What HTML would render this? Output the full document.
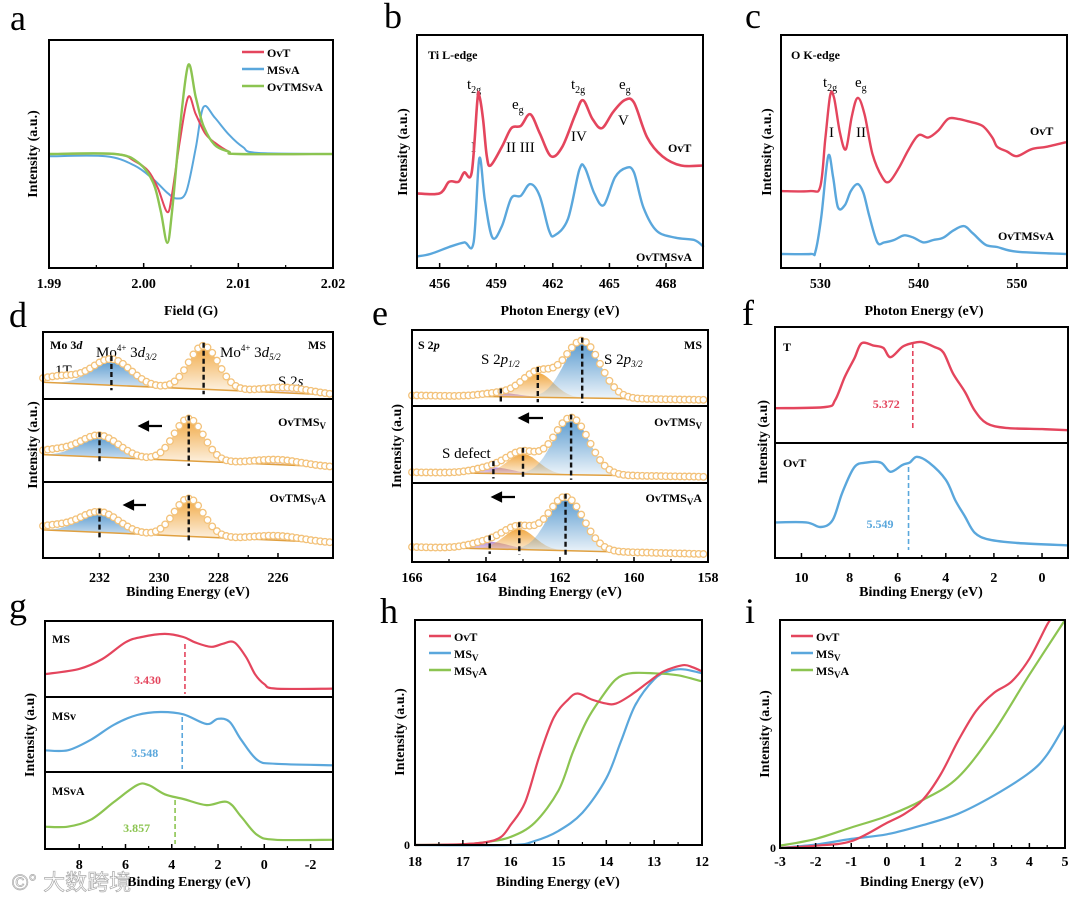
<!DOCTYPE html>
<html><head><meta charset="utf-8"><style>
body{margin:0;background:#fff}
svg{display:block;font-family:"Liberation Serif","Noto Serif CJK SC",serif}
.fr{fill:none;stroke:#000;stroke-width:2}
.tl{font-size:14px;font-weight:bold;text-anchor:middle}
.at{font-size:14px;font-weight:bold;text-anchor:middle}
.pl{font-size:36px}
.lb{font-size:12px;font-weight:bold}
.an{font-size:15px}
</style></head><body>
<svg id="chart" width="1080" height="897" viewBox="0 0 1080 897" xmlns="http://www.w3.org/2000/svg">
<rect width="1080" height="897" fill="#fff"/>
<g>
<text class="pl" x="10" y="30">a</text>
<text class="pl" x="384" y="28">b</text>
<text class="pl" x="745" y="28">c</text>
<text class="pl" x="9" y="327">d</text>
<text class="pl" x="372" y="325">e</text>
<text class="pl" x="742" y="325">f</text>
<text class="pl" x="9" y="618">g</text>
<text class="pl" x="380" y="623">h</text>
<text class="pl" x="745" y="623">i</text>
</g>
<g>
<text class="at" x="191" y="315">Field (G)</text>
<text class="at" x="560" y="315">Photon Energy (eV)</text>
<text class="at" x="924" y="315">Photon Energy (eV)</text>
<text class="at" x="188" y="596">Binding Energy (eV)</text>
<text class="at" x="560" y="596">Binding Energy (eV)</text>
<text class="at" x="921" y="596">Binding Energy (eV)</text>
<text class="at" x="189" y="886">Binding Energy (eV)</text>
<text class="at" x="558" y="886">Binding Energy (eV)</text>
<text class="at" x="922" y="886">Binding Energy (eV)</text>
<text class="at" transform="translate(37,154) rotate(-90)">Intensity (a.u.)</text>
<text class="at" transform="translate(407,152) rotate(-90)">Intensity (a.u.)</text>
<text class="at" transform="translate(771,152) rotate(-90)">Intensity (a.u.)</text>
<text class="at" transform="translate(37,445) rotate(-90)">Intensity (a.u.)</text>
<text class="at" transform="translate(401,446) rotate(-90)">Intensity (a.u)</text>
<text class="at" transform="translate(767,442) rotate(-90)">Intensity (a.u)</text>
<text class="at" transform="translate(34,735) rotate(-90)">Intensity (a.u)</text>
<text class="at" transform="translate(404,732) rotate(-90)">Intensity (a.u.)</text>
<text class="at" transform="translate(769,734) rotate(-90)">Intensity (a.u.)</text>
</g>
<g>
<text class="lb" x="428" y="59">Ti L-edge</text>
<text class="an" x="467" y="89">t<tspan font-size="10" dy="4">2g</tspan></text>
<text class="an" x="512" y="109">e<tspan font-size="10" dy="4">g</tspan></text>
<text class="an" x="571" y="89">t<tspan font-size="10" dy="4">2g</tspan></text>
<text class="an" x="619" y="89">e<tspan font-size="10" dy="4">g</tspan></text>
<text class="an" x="471" y="152">I</text>
<text class="an" x="506" y="152">II III</text>
<text class="an" x="571" y="141">IV</text>
<text class="an" x="618" y="125">V</text>
<text class="lb" x="668" y="152">OvT</text>
<text class="lb" x="636" y="261">OvTMSvA</text>
<text class="lb" x="791" y="59">O K-edge</text>
<text class="an" x="823" y="87">t<tspan font-size="10" dy="4">2g</tspan></text>
<text class="an" x="855" y="87">e<tspan font-size="10" dy="4">g</tspan></text>
<text class="an" x="829" y="137">I</text>
<text class="an" x="856" y="137">II</text>
<text class="lb" x="1030" y="135">OvT</text>
<text class="lb" x="998" y="240">OvTMSvA</text>
<text class="lb" x="50" y="349">Mo 3<tspan font-style="italic">d</tspan></text>
<text class="an" x="96" y="357">Mo<tspan font-size="9" dy="-6">4+</tspan><tspan dy="6"> 3</tspan><tspan font-style="italic">d</tspan><tspan font-size="9" font-style="italic" dy="3">3/2</tspan></text>
<text class="an" x="220" y="357">Mo<tspan font-size="9" dy="-6">4+</tspan><tspan dy="6"> 3</tspan><tspan font-style="italic">d</tspan><tspan font-size="9" font-style="italic" dy="3">5/2</tspan></text>
<text class="an" x="55" y="375">1T</text>
<text class="an" x="278" y="386">S 2<tspan font-style="italic">s</tspan></text>
<text class="lb" x="326" y="349" text-anchor="end">MS</text>
<text class="lb" x="326" y="426" text-anchor="end">OvTMS<tspan font-size="9" dy="3">V</tspan></text>
<text class="lb" x="326" y="502" text-anchor="end">OvTMS<tspan font-size="9" dy="3">V</tspan><tspan dy="-3">A</tspan></text>
<text class="lb" x="418" y="349">S 2<tspan font-style="italic">p</tspan></text>
<text class="an" x="481" y="364">S 2<tspan font-style="italic">p</tspan><tspan font-size="9" font-style="italic" dy="3">1/2</tspan></text>
<text class="an" x="604" y="364">S 2<tspan font-style="italic">p</tspan><tspan font-size="9" font-style="italic" dy="3">3/2</tspan></text>
<text class="lb" x="702" y="349" text-anchor="end">MS</text>
<text class="lb" x="702" y="426" text-anchor="end">OvTMS<tspan font-size="9" dy="3">V</tspan></text>
<text class="lb" x="702" y="502" text-anchor="end">OvTMS<tspan font-size="9" dy="3">V</tspan><tspan dy="-3">A</tspan></text>
<text class="an" x="442" y="458">S defect</text>
<text class="lb" x="783" y="351">T</text>
<text class="lb" x="783" y="467">OvT</text>
<text class="lb" x="52" y="643">MS</text>
<text class="lb" x="52" y="720">MSv</text>
<text class="lb" x="52" y="795">MSvA</text>
<text x="12" y="890" font-size="22" fill="#fff" stroke="#aaa" stroke-width="0.7" font-family="Liberation Sans, Noto Sans CJK SC, sans-serif">©° 大数跨境</text>
</g>
<g id="marks"></g>
<g id="frames"></g>
</svg>
<script>
// ---------- data ----------
const aX_ovt=[1.99,1.997,1.999,2.0005,2.0015,2.0025,2.003,2.0038,2.0047,2.0055,2.0065,2.0075,2.009,2.01,2.02];
const aY_ovt=[0,0,-0.06,-0.15,-0.3,-0.51,-0.35,0.1,0.5,0.35,0.18,0.1,0.02,0,0];
const aX_msva=[1.99,1.996,1.999,2.001,2.0025,2.0035,2.0045,2.0055,2.0063,2.0075,2.009,2.0105,2.012,2.02];
const aY_msva=[-0.02,-0.02,-0.1,-0.22,-0.34,-0.39,-0.33,0.05,0.41,0.32,0.17,0.06,0.01,0];
const aX_ovtmsva=[1.99,1.997,1.9995,2.001,2.0018,2.0025,2.003,2.0038,2.0047,2.0055,2.0063,2.0075,2.009,2.01,2.02];
const aY_ovtmsva=[0,0,-0.08,-0.25,-0.5,-0.78,-0.5,0.2,0.78,0.5,0.25,0.08,0.02,0,0];
const aTicks=[1.99,2.00,2.01,2.02];

const bX_ovt=[454.8,456,456.5,457,457.3,457.7,458,458.1,458.3,458.5,458.7,459.3,459.8,460.3,460.8,461.3,461.9,462.5,463.2,463.6,464.1,464.6,465.2,465.8,466.3,467,467.8,468.8,470];
const bY_ovt=[32,32,37,37,41,41,72,74,64,48,44,52,60,61,66,58,48,52,66,72,64,60,67,72,71,56,48,44,44];
const bX_ovtmsva=[454.8,455.5,456.5,457.3,457.8,458.1,458.4,458.8,459.3,459.8,460.3,460.8,461.3,461.8,462.1,462.8,463.4,463.7,464.2,464.7,465.3,465.9,466.3,466.8,467.5,468.5,469.5,470];
const bY_ovtmsva=[5,6,9,11,11,47,29,13,18,30,31,36,31,16,14,21,42,43,32,27,39,43,41,26,16,13,12,9];
const bTicks=[456,459,462,465,468];

const cX_ovt=[526,529,530,530.5,531,531.4,532,532.6,533.2,533.8,534.5,535.3,536.3,537,538,539,540,541,542,543,544,545,546.5,547.5,548,549,550,551.5,553,555];
const cY_ovt=[33,33,35,55,74,73,58,51,65,73,66,49,39,37,43,51,57,56,59,64,64,63,61,56,52,50,48,51,52,54];
const cX_ovtmsva=[526,529,529.5,530.1,530.8,531.3,531.8,532.5,533.1,533.8,534.4,535,535.8,536.5,537.5,538.5,539.5,540.5,541.5,542.5,543.5,544.6,545.5,546.8,548,550,555];
const cY_ovtmsva=[6,6,7,22,48,39,26,27,33,36,32,22,11,11,12,14,13,11,12,13,16,18,15,10,9,7,6];
const cTicks=[530,540,550];

const dCenters_MS=[233.3,231.6,228.5,225.7];
const dAmps_MS=[10,39,65,8];
const dBase_MS=[25,6];
const dCenters_V=[233.5,232.0,229.0,226.0];
const dAmps_V=[6,26,51,6];
const dBase_V=[33,18];
const dCenters_VA=[233.5,232.0,229.0,226.0];
const dAmps_VA=[6,27,50,6];
const dBase_VA=[37,20];
const dSigmas=[0.6,0.65,0.5,0.8];
const dTicks=[232,230,228,226];

const eCenters_MS=[163.6,162.6,161.4];
const eAmps_MS=[5,32,75];
const eBase_MS=[14,8];
const eCenters_V=[163.8,163.0,161.7];
const eAmps_V=[8,26,74];
const eBase_V=[14,8];
const eCenters_VA=[163.9,163.1,161.85];
const eAmps_VA=[9,26,68];
const eBase_VA=[19,10];
const eSigmas=[0.5,0.42,0.48];
const eTicks=[166,164,162,160,158];

const fX_t=[11.1,9,8.6,8.2,7.8,7.5,7,6.6,6.3,5.8,5.4,5,4.5,4.1,3.7,3.2,2.8,2.3,1.5,0,-1.08];
const fY_t=[30,31,37,57,73,86,84,82,74,83,86,87,83,78,60,44,28,17,13,12,11];
const fX_ovt=[11.1,9.8,9.2,8.7,8.3,7.8,7.3,6.7,6.3,5.8,5.5,5.2,4.7,4,3.6,3.2,2.8,2.2,1,-1.08];
const fY_ovt=[31,31,27,33,57,79,83,83,75,81,83,88,83,68,50,36,22,16,13,11];
const fMarks=[5.372,5.549];
const fTicks=[10,8,6,4,2,0];

const gX_ms=[9.5,8,7,6,5.3,4.3,3.5,3,2.3,1.8,1.3,0.8,0.4,0,-0.5,-3];
const gY_ms=[30,37,50,72,79,83,79,72,66,70,72,53,30,17,11,11];
const gX_msv=[9.5,8.5,7.5,6.5,5.5,4.5,3.5,2.5,2,1.5,1,0.3,-0.5,-3];
const gY_msv=[29,29,43,63,76,80,77,64,71,67,43,16,11,9];
const gX_msva=[9.5,8.5,7.5,6.5,5.5,5,4.3,3.5,2.5,1.6,1,0.3,-0.5,-3];
const gY_msva=[29,29,38,61,83,83,71,65,57,61,42,18,12,12];
const gMarks=[3.430,3.548,3.857];
const gTicks=[8,6,4,2,0,-2];

const hX_ovt=[18,17,16.5,16.2,16,15.7,15.4,15.1,14.8,14.6,14.3,14,13.8,13.5,13.1,12.8,12.4,12.2,12];
const hY_ovt=[0,0.4,1.5,4,10,21,44,63,72,75,72,70,70,74,81,86,89,88,86];
const hX_msv=[18,16,15.5,15,14.5,14,13.7,13.4,13,12.7,12.4,12];
const hY_msv=[0,0,2,7,16,33,51,69,82,86,87,85];
const hX_msva=[18,17,16.5,16,15.5,15,14.7,14.4,14.1,13.8,13.5,13,12.5,12];
const hY_msva=[0,0.3,1.5,4,11,27,46,62,73,82,85,85,84,81];
const hTicks=[18,17,16,15,14,13,12];

const iX_ovt=[-3,-2,-1,0,0.5,1,1.5,2,2.5,3,3.5,4,4.5,4.6];
const iY_ovt=[0,1,3,11,15,21,32,47,60,68,73,83,98,100];
const iX_msva=[-3,-2,-1,0,1,2,3,4,5];
const iY_msva=[1,4,9,14,21,31,51,76,100];
const iX_msv=[-3,-2,-1,0,1,2,3,4,4.5,5];
const iY_msv=[0,1.5,4,6,10,15,23,33,41,54];
const iTicks=[-3,-2,-1,0,1,2,3,4,5];

// ---------- drawing ----------
const NS='http://www.w3.org/2000/svg';
const marks=document.getElementById('marks');
const frames=document.getElementById('frames');
const RED='#e4455d',BLUE='#5aa7dc',GREEN='#8cc451';
function mk(tag,parent){const e=document.createElementNS(NS,tag);(parent||marks).appendChild(e);return e;}
function scale(d0,d1,r0,r1){return v=>r0+(v-d0)/(d1-d0)*(r1-r0);}
function axes(x0,y0,w,h){return {x0,y0,w,h};}
function frame(b,name){
  const r=mk('rect',frames);
  r.setAttribute('x',b.x0);r.setAttribute('y',b.y0);r.setAttribute('width',b.w);r.setAttribute('height',b.h);
  r.setAttribute('class','fr');
  
  
}
function divider(b,y,name){
  const l=mk('line',frames);
  l.setAttribute('x1',b.x0);l.setAttribute('x2',b.x0+b.w);l.setAttribute('y1',y);l.setAttribute('y2',y);
  l.setAttribute('stroke','#000');l.setAttribute('stroke-width','2');
  
  
}
function ticks(b,xs,ticksArr,labelY,name,fmt,minor){
  const g=mk('g');
  
  
  ticksArr.forEach(t=>{
    const x=xs(t);
    const l=mk('line',g);
    l.setAttribute('x1',x);l.setAttribute('x2',x);l.setAttribute('y1',b.y0+b.h);l.setAttribute('y2',b.y0+b.h-5);
    l.setAttribute('stroke','#000');l.setAttribute('stroke-width','1.5');
    const tx=mk('text',g);
    tx.setAttribute('x',x);tx.setAttribute('y',labelY);tx.setAttribute('class','tl');
    tx.textContent=fmt?fmt(t):t;
    
    
  });
  if(minor){
    for(let i=0;i<ticksArr.length-1;i++){
      const x=xs((ticksArr[i]+ticksArr[i+1])/2);
      const l=mk('line',g);
      l.setAttribute('x1',x);l.setAttribute('x2',x);l.setAttribute('y1',b.y0+b.h);l.setAttribute('y2',b.y0+b.h-3);
      l.setAttribute('stroke','#000');l.setAttribute('stroke-width','1.2');
    }
  }
}
function smoothPath(P){
  let d='M'+P[0][0].toFixed(1)+','+P[0][1].toFixed(1);
  for(let i=0;i<P.length-1;i++){
    const p0=P[Math.max(0,i-1)],p1=P[i],p2=P[i+1],p3=P[Math.min(P.length-1,i+2)];
    const c1x=p1[0]+(p2[0]-p0[0])/6,c1y=p1[1]+(p2[1]-p0[1])/6;
    const c2x=p2[0]-(p3[0]-p1[0])/6,c2y=p2[1]-(p3[1]-p1[1])/6;
    d+='C'+c1x.toFixed(1)+','+c1y.toFixed(1)+' '+c2x.toFixed(1)+','+c2y.toFixed(1)+' '+p2[0].toFixed(1)+','+p2[1].toFixed(1);
  }
  return d;
}
function series(xs,ys,X,Y,color,w,name,parent){
  const p=mk('path',parent);
  p.setAttribute('d',smoothPath(X.map((v,i)=>[xs(v),ys(Y[i])])));
  p.setAttribute('fill','none');p.setAttribute('stroke',color);p.setAttribute('stroke-width',w||2.2);
  p.setAttribute('stroke-linejoin','round');
  
  
  return p;
}
function dashed(x,y1,y2,color,name,w){
  const l=mk('line');
  l.setAttribute('x1',x);l.setAttribute('x2',x);l.setAttribute('y1',y1);l.setAttribute('y2',y2);
  l.setAttribute('stroke',color);l.setAttribute('stroke-width',w||1.6);l.setAttribute('stroke-dasharray','5,3');
  
  
}
function label(x,y,txt,color,name){
  const t=mk('text');
  t.setAttribute('x',x);t.setAttribute('y',y);t.setAttribute('fill',color);t.setAttribute('class','lb');
  t.setAttribute('font-size','14');
  t.textContent=txt;
  
  
}
function legend(x,y,items,name){
  const g=mk('g');
  
  
  items.forEach((it,i)=>{
    const l=mk('line',g);
    l.setAttribute('x1',x);l.setAttribute('x2',x+22);l.setAttribute('y1',y+i*17);l.setAttribute('y2',y+i*17);
    l.setAttribute('stroke',it[1]);l.setAttribute('stroke-width','2.5');
    
    
    const t=mk('text',g);
    t.setAttribute('x',x+25);t.setAttribute('y',y+i*17+5);t.setAttribute('class','lb');t.setAttribute('font-size','13');
    t.innerHTML=it[0];
    
    
  });
}
function arrow(x1,x2,y,name){
  const p=mk('path');
  p.setAttribute('d',`M${x2},${y}L${x1+7},${y}M${x1},${y}l8,-4v8z`);
  p.setAttribute('stroke','#000');p.setAttribute('stroke-width','2.2');p.setAttribute('fill','#000');
  
  
}
const defs=mk('defs');
[['gBlue','#4f94cc'],['gOrange','#f0a43a'],['gPurple','#b58ad0']].forEach(([id,c])=>{
  const lg=mk('linearGradient',defs);lg.setAttribute('id',id);lg.setAttribute('x1',0);lg.setAttribute('x2',0);lg.setAttribute('y1',0);lg.setAttribute('y2',1);
  const s1=mk('stop',lg);s1.setAttribute('offset','0');s1.setAttribute('stop-color',c);s1.setAttribute('stop-opacity','0.95');
  const s2=mk('stop',lg);s2.setAttribute('offset','1');s2.setAttribute('stop-color',c);s2.setAttribute('stop-opacity','0.08');
});
function fitPanel(xs,x0d,x1d,top,bot,centers,amps,sigmas,base,fills,name,dashTo){
  const ys=scale(0,100,bot,top);
  const g=mk('g');
  
  
  const bl=v=>base[0]+(v-x0d)/(x1d-x0d)*(base[1]-base[0]);
  const comp=(k,v)=>amps[k]*Math.exp(-0.5*Math.pow((v-centers[k])/sigmas[k],2));
  const N=160,pts=[];for(let i=0;i<=N;i++)pts.push(x0d+(x1d-x0d)*i/N);
  centers.forEach((c,k)=>{
    if(!fills[k])return;
    const p=mk('path',g);
    let d='';pts.forEach((v,i)=>{d+=(i?'L':'M')+xs(v).toFixed(1)+','+ys(bl(v)+comp(k,v)).toFixed(1);});
    for(let i=N;i>=0;i--)d+='L'+xs(pts[i]).toFixed(1)+','+ys(bl(pts[i])).toFixed(1);
    p.setAttribute('d',d+'Z');p.setAttribute('fill',fills[k]);p.setAttribute('stroke','none');
    
    
  });
  const b=mk('path',g);
  b.setAttribute('d','M'+xs(x0d)+','+ys(base[0])+'L'+xs(x1d)+','+ys(base[1]));
  b.setAttribute('stroke','#e0a040');b.setAttribute('stroke-width','1.5');
  
  
  const env=v=>bl(v)+centers.reduce((s,c,k)=>s+comp(k,v),0);
  let px=xs(x0d);const pend=xs(x1d);
  const inv=scale(xs(x0d),xs(x1d),x0d,x1d);
  while(px<=pend+0.1){
    const v=inv(px);
    const c=mk('circle',g);
    c.setAttribute('cx',px.toFixed(1));c.setAttribute('cy',ys(env(v)).toFixed(1));c.setAttribute('r','3.3');
    c.setAttribute('fill','#fff');c.setAttribute('stroke','#f3c27a');c.setAttribute('stroke-width','1.3');
    
    
    px+=4.7;
  }
  dashTo.forEach(k=>{
    const c=centers[k];
    dashed(xs(c),ys(env(c))-3,ys(bl(c))+5,'#111','peak-position-line',2.4);
  });
}

{const b=axes(49,40,284,228);const xs=scale(1.99,2.02,49,333),ys=scale(-1,1,268,40);
 series(xs,ys,aX_msva,aY_msva,BLUE,2,'series-msva');
 series(xs,ys,aX_ovt,aY_ovt,RED,2,'series-ovt');
 series(xs,ys,aX_ovtmsva,aY_ovtmsva,GREEN,2.4,'series-ovtmsva');
 ticks(b,xs,aTicks,288,'x-ticks-a',t=>t.toFixed(2),true);
 legend(242,52,[['OvT',RED],['MSvA',BLUE],['OvTMSvA',GREEN]],'legend-a');
 frame(b,'plot-frame-a');}
{const b=axes(417,35,286,233);const xs=scale(454.8,469.96,417,703),ys=scale(0,100,268,35);
 series(xs,ys,bX_ovt,bY_ovt,RED,2.6,'series-ovt-b');
 series(xs,ys,bX_ovtmsva,bY_ovtmsva,BLUE,2.4,'series-ovtmsva-b');
 ticks(b,xs,bTicks,288,'x-ticks-b',null,true);
 frame(b,'plot-frame-b');}
{const b=axes(781,35,286,233);const xs=scale(526,555.1,781,1067),ys=scale(0,100,268,35);
 series(xs,ys,cX_ovt,cY_ovt,RED,2.4,'series-ovt-c');
 series(xs,ys,cX_ovtmsva,cY_ovtmsva,BLUE,2.4,'series-ovtmsva-c');
 ticks(b,xs,cTicks,288,'x-ticks-c',null,true);
 frame(b,'plot-frame-c');}
{const b=axes(43,332,290,226);const x0=233.9,x1=224.15;const xs=scale(x0,x1,43,333);
 const fills=[null,'url(#gBlue)','url(#gOrange)','url(#gPurple)'];
 fitPanel(xs,x0,x1,332,399,dCenters_MS,dAmps_MS,dSigmas,dBase_MS,fills,'fit-ms-d',[1,2]);
 fitPanel(xs,x0,x1,399,482,dCenters_V,dAmps_V,dSigmas,dBase_V,fills,'fit-ovtmsv-d',[1,2]);
 fitPanel(xs,x0,x1,482,558,dCenters_VA,dAmps_VA,dSigmas,dBase_VA,fills,'fit-ovtmsva-d',[1,2]);
 arrow(140,162,426,'shift-arrow-d1');arrow(125,146,505,'shift-arrow-d2');
 ticks(b,xs,dTicks,582,'x-ticks-d',null,true);
 divider(b,399,'divider-d1');divider(b,482,'divider-d2');
 frame(b,'plot-frame-d');}
{const b=axes(412,330,296,232);const x0=166,x1=158;const xs=scale(x0,x1,412,708);
 const fills=['url(#gPurple)','url(#gOrange)','url(#gBlue)'];
 fitPanel(xs,x0,x1,330,406,eCenters_MS,eAmps_MS,eSigmas,eBase_MS,fills,'fit-ms-e',[0,1,2]);
 fitPanel(xs,x0,x1,406,483,eCenters_V,eAmps_V,eSigmas,eBase_V,fills,'fit-ovtmsv-e',[0,1,2]);
 fitPanel(xs,x0,x1,483,562,eCenters_VA,eAmps_VA,eSigmas,eBase_VA,fills,'fit-ovtmsva-e',[0,1,2]);
 arrow(520,543,418,'shift-arrow-e1');arrow(493,515,497,'shift-arrow-e2');
 ticks(b,xs,eTicks,582,'x-ticks-e',null,true);
 divider(b,406,'divider-e1');divider(b,483,'divider-e2');
 frame(b,'plot-frame-e');}
{const b=axes(775,327,293,231);const xs=scale(11.1,-1.08,775,1068);
 const y1=scale(0,100,443,327),y2=scale(0,100,558,443);
 series(xs,y1,fX_t,fY_t,RED,2.4,'series-t-f');
 series(xs,y2,fX_ovt,fY_ovt,BLUE,2.4,'series-ovt-f');
 dashed(xs(fMarks[0]),343,430,RED,'vbm-line-t');
 dashed(xs(fMarks[1]),467,550,BLUE,'vbm-line-ovt');
 label(xs(fMarks[0])-40,408,fMarks[0].toFixed(3),RED,'value-label-t');
 label(xs(fMarks[1])-42,528,fMarks[1].toFixed(3),BLUE,'value-label-ovt');
 ticks(b,xs,fTicks,582,'x-ticks-f',null,true);
 divider(b,443,'divider-f');
 frame(b,'plot-frame-f');}
{const b=axes(45,621,288,228);const xs=scale(9.48,-2.97,45,333);
 const y1=scale(0,100,697,621),y2=scale(0,100,772,697),y3=scale(0,100,849,772);
 series(xs,y1,gX_ms,gY_ms,RED,2.2,'series-ms-g');
 series(xs,y2,gX_msv,gY_msv,BLUE,2.2,'series-msv-g');
 series(xs,y3,gX_msva,gY_msva,GREEN,2.2,'series-msva-g');
 dashed(xs(gMarks[0]),644,694,RED,'vbm-line-ms');
 dashed(xs(gMarks[1]),717,769,BLUE,'vbm-line-msv');
 dashed(xs(gMarks[2]),800,844,GREEN,'vbm-line-msva');
 label(xs(gMarks[0])-51,684,gMarks[0].toFixed(3),RED,'value-label-ms');
 label(xs(gMarks[1])-51,757,gMarks[1].toFixed(3),BLUE,'value-label-msv');
 label(xs(gMarks[2])-52,832,gMarks[2].toFixed(3),GREEN,'value-label-msva');
 ticks(b,xs,gTicks,869,'x-ticks-g',null,true);
 divider(b,697,'divider-g1');divider(b,772,'divider-g2');
 frame(b,'plot-frame-g');}
{const b=axes(415,620,287,225);const xs=scale(18,12,415,702),ys=scale(0,100,845,643);
 series(xs,ys,hX_msv,hY_msv,BLUE,2.2,'series-msv-h');
 series(xs,ys,hX_msva,hY_msva,GREEN,2.2,'series-msva-h');
 series(xs,ys,hX_ovt,hY_ovt,RED,2.2,'series-ovt-h');
 ticks(b,xs,hTicks,866,'x-ticks-h',null,true);
 label(404,849,'0','#000','y-tick-0-h');
 legend(429,636,[['OvT',RED],['MS<tspan font-size="9" dy="3">V</tspan>',BLUE],['MS<tspan font-size="9" dy="3">V</tspan><tspan dy="-3">A</tspan>',GREEN]],'legend-h');
 frame(b,'plot-frame-h');}
{const b=axes(780,620,285,228);const xs=scale(-3,5,780,1065),ys=scale(0,100,848,620);
 series(xs,ys,iX_msv,iY_msv,BLUE,2.2,'series-msv-i');
 series(xs,ys,iX_msva,iY_msva,GREEN,2.2,'series-msva-i');
 series(xs,ys,iX_ovt,iY_ovt,RED,2.2,'series-ovt-i');
 ticks(b,xs,iTicks,866,'x-ticks-i',null,true);
 label(770,852,'0','#000','y-tick-0-i');
 legend(791,636,[['OvT',RED],['MS<tspan font-size="9" dy="3">V</tspan>',BLUE],['MS<tspan font-size="9" dy="3">V</tspan><tspan dy="-3">A</tspan>',GREEN]],'legend-i');
 frame(b,'plot-frame-i');}
</script>
</body></html>
